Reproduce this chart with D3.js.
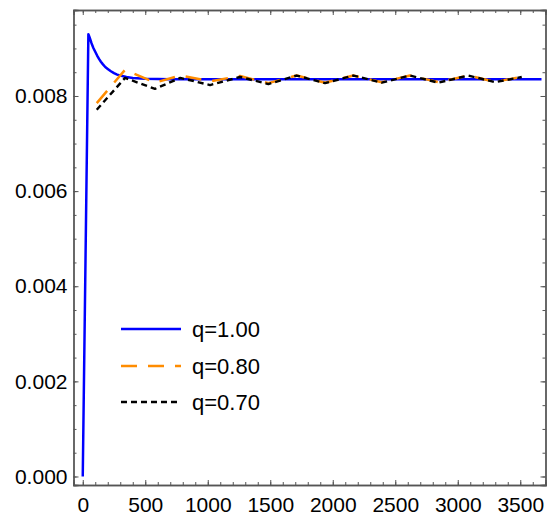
<!DOCTYPE html>
<html>
<head>
<meta charset="utf-8">
<script src="https://cdn.jsdelivr.net/npm/d3@7"></script>
<style>
  body { margin: 0; background: #fff; }
  svg { display: block; font-family: "Liberation Sans", Arial, sans-serif; }
</style>
</head>
<body>
<svg id="chart" width="547" height="517"></svg>
<script>
// tick labels
var xTicks = [0, 500, 1000, 1500, 2000, 2500, 3000, 3500];
var yTicks = [0, 0.002, 0.004, 0.006, 0.008];
var xMinor = d3.range(0, 3701, 100);
var yMinor = d3.range(0, 0.00951, 0.0005);

// q = 1.00
var tBlue = [0, 45, 55, 70, 85, 100, 115, 130, 145, 160, 180, 200, 225, 250, 275, 300, 350, 400, 500, 700, 3670];
var vBlue = [0, 0.00930, 0.00923, 0.00911, 0.00901, 0.00893, 0.00885, 0.00878, 0.00872, 0.00867, 0.00861, 0.00857, 0.00852, 0.00848, 0.00845, 0.00843, 0.00840, 0.00838, 0.00836, 0.00835, 0.00835];

// q = 0.80
var tOrange = [112, 338, 578, 780, 1019, 1258, 1485, 1711, 1938, 2165, 2391, 2618, 2845, 3085, 3298, 3512];
var vOrange = [0.00785, 0.00855, 0.00828, 0.00843, 0.00831, 0.00842, 0.00827, 0.00843, 0.00828, 0.00843, 0.00829, 0.00843, 0.00829, 0.00843, 0.00830, 0.00840];

// q = 0.70
var tBlack = [112, 338, 578, 780, 1019, 1258, 1485, 1711, 1938, 2165, 2391, 2618, 2845, 3085, 3298, 3512];
var vBlack = [0.00771, 0.00838, 0.00815, 0.00838, 0.00823, 0.00840, 0.00825, 0.00843, 0.00827, 0.00843, 0.00828, 0.00843, 0.00828, 0.00843, 0.00829, 0.00840];

(function () {

    var series = [
        { name: "q=1.00", t: tBlue, v: vBlue, color: "#0000ff", width: 2.5, dash: null },
        { name: "q=0.80", t: tOrange, v: vOrange, color: "#ff8c00", width: 2.5, dash: "16,11" },
        { name: "q=0.70", t: tBlack, v: vBlack, color: "#000000", width: 2.4, dash: "6,4" }
    ];

    var mLeft = 73.5, mRight = 545.5, mTop = 10, mBottom = 485;

    var x = d3.scaleLinear().domain([-74, 3702]).range([mLeft, mRight]);
    var y = d3.scaleLinear().domain([-0.000179, 0.009808]).range([mBottom, mTop]);

    var svg = d3.select("#chart");

    // curves
    svg.append("clipPath").attr("id", "clip")
        .append("rect")
        .attr("x", mLeft).attr("y", mTop)
        .attr("width", mRight - mLeft).attr("height", mBottom - mTop);

    var plot = svg.append("g").attr("clip-path", "url(#clip)");

    var line = d3.line()
        .x(function (d) { return x(d[0]); })
        .y(function (d) { return y(d[1]); });

    series.forEach(function (s) {
        var pts = s.t.map(function (t, i) { return [t, s.v[i]]; });
        plot.append("path")
            .attr("d", line(pts))
            .attr("fill", "none")
            .attr("stroke", s.color)
            .attr("stroke-width", s.width)
            .attr("stroke-dasharray", s.dash)
            .attr("stroke-linejoin", "round");
    });

    // frame axes, ticks pointing inward
    var frameColor = "#555";

    function styleAxis(g) {
        g.select(".domain").attr("stroke", frameColor).attr("stroke-width", 1.3);
        g.selectAll(".tick line").attr("stroke", frameColor).attr("stroke-width", 1);
        g.selectAll(".tick text").attr("fill", "#000").attr("font-size", 21)
            .attr("font-family", "'Liberation Sans', Arial, sans-serif");
    }

    // bottom
    svg.append("g").attr("transform", "translate(0," + mBottom + ")")
        .call(d3.axisBottom(x).tickValues(xMinor).tickSize(-3).tickFormat(""))
        .call(styleAxis);
    svg.append("g").attr("transform", "translate(0," + mBottom + ")")
        .call(d3.axisBottom(x).tickValues(xTicks).tickSize(-5).tickPadding(12).tickFormat(d3.format("d")))
        .call(styleAxis);

    // top
    svg.append("g").attr("transform", "translate(0," + mTop + ")")
        .call(d3.axisTop(x).tickValues(xMinor).tickSize(-3).tickFormat(""))
        .call(styleAxis);
    svg.append("g").attr("transform", "translate(0," + mTop + ")")
        .call(d3.axisTop(x).tickValues(xTicks).tickSize(-5).tickFormat(""))
        .call(styleAxis);

    // left
    svg.append("g").attr("transform", "translate(" + mLeft + ",0)")
        .call(d3.axisLeft(y).tickValues(yMinor).tickSize(-3).tickFormat(""))
        .call(styleAxis);
    svg.append("g").attr("transform", "translate(" + mLeft + ",0)")
        .call(d3.axisLeft(y).tickValues(yTicks).tickSize(-5).tickPadding(6).tickFormat(d3.format(".3f")))
        .call(styleAxis);

    // right
    svg.append("g").attr("transform", "translate(" + mRight + ",0)")
        .call(d3.axisRight(y).tickValues(yMinor).tickSize(-3).tickFormat(""))
        .call(styleAxis);
    svg.append("g").attr("transform", "translate(" + mRight + ",0)")
        .call(d3.axisRight(y).tickValues(yTicks).tickSize(-5).tickFormat(""))
        .call(styleAxis);

    // legend
    var legend = svg.append("g");
    var legendY = d3.scaleOrdinal().domain(series.map(function (s) { return s.name; })).range([329, 366, 402]);

    series.forEach(function (s) {
        var ly = legendY(s.name);
        legend.append("line")
            .attr("x1", 121).attr("x2", 181)
            .attr("y1", ly).attr("y2", ly)
            .attr("stroke", s.color)
            .attr("stroke-width", s.width)
            .attr("stroke-dasharray", s.dash);
        legend.append("text")
            .attr("x", 192).attr("y", ly + 8)
            .attr("font-size", 22)
            .attr("fill", "#000")
            .text(s.name);
    });

})();
</script>
</body>
</html>
